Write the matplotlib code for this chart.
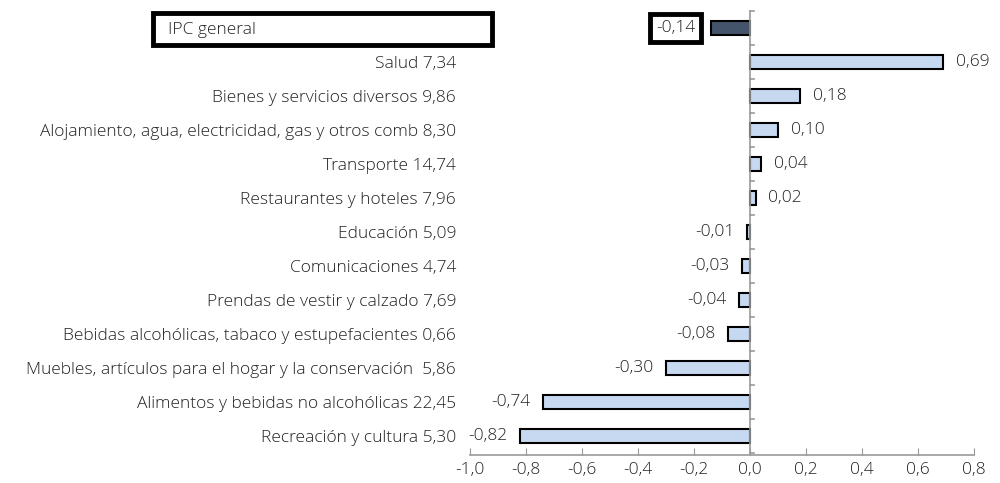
import numpy as np
import matplotlib.pyplot as plt
from matplotlib.patches import Rectangle
from matplotlib.transforms import blended_transform_factory

plt.rcParams['font.family'] = ['Open Sans', 'DejaVu Sans']
plt.rcParams['font.weight'] = 'light'

# categories from bottom to top
categories = ['Recreación y cultura', 'Alimentos y bebidas no alcohólicas',
              'Muebles, artículos para el hogar y la conservación ',
              'Bebidas alcohólicas, tabaco y estupefacientes',
              'Prendas de vestir y calzado', 'Comunicaciones', 'Educación',
              'Restaurantes y hoteles', 'Transporte',
              'Alojamiento, agua, electricidad, gas y otros comb',
              'Bienes y servicios diversos', 'Salud', 'IPC general']
weights = ['5,30', '22,45', '5,86', '0,66', '7,69', '4,74', '5,09',
           '7,96', '14,74', '8,30', '9,86', '7,34', '']
values = [-0.82, -0.74, -0.30, -0.08, -0.04, -0.03, -0.01,
          0.02, 0.04, 0.10, 0.18, 0.69, -0.14]

light = '#C6D9F1'
dark = '#44546A'
fs = 12.5

fig = plt.figure(figsize=(10, 4.83), dpi=100)
ax = fig.add_axes([0.47, 0.058, 0.504, 0.921])

y = np.arange(len(categories))
colors = [light] * (len(values) - 1) + [dark]
ax.barh(y, values, height=0.42, color=colors, edgecolor='black', linewidth=1.5, zorder=3)

ax.set_xlim(-1.0, 0.8)
ax.set_ylim(-0.56, len(categories) - 0.47)

xt = np.arange(-1.0, 0.81, 0.2)
ax.set_xticks(xt)
ax.set_xticklabels([f'{v:.1f}'.replace('.', ',').replace('-0,0', '0,0') for v in xt],
                   fontsize=fs, color='#222222')
ax.tick_params(axis='x', direction='in', length=5, color='#999999', pad=5)

labels = [f'{c} {w}' for c, w in zip(categories[:-1], weights[:-1])] + ['']
ax.set_yticks(y)
ax.set_yticklabels(labels, fontsize=fs, color='#222222')
ax.tick_params(axis='y', length=0, pad=10)

for s in ['top', 'right', 'left']:
    ax.spines[s].set_visible(False)
ax.spines['bottom'].set_color('#999999')
ax.spines['bottom'].set_linewidth(1.2)

# vertical axis at zero with ticks between categories
ax.axvline(0, color='#999999', lw=1.2, zorder=4)
for b in np.arange(-0.5, len(categories) - 0.4, 1.0):
    ax.plot([0, 0.015], [b, b], color='#999999', lw=1.2, zorder=4, clip_on=False)

# value labels
for yi, v in zip(y, values):
    txt = f'{v:.2f}'.replace('.', ',')
    if yi == len(categories) - 1:
        ax.text(v - 0.055, yi, txt, ha='right', va='center', fontsize=fs, color='#222222',
                bbox=dict(boxstyle='square,pad=0.35', fc='white', ec='black', lw=3.5))
    elif v >= 0:
        ax.text(v + 0.045, yi, txt, ha='left', va='center', fontsize=fs, color='#222222')
    else:
        ax.text(v - 0.045, yi, txt, ha='right', va='center', fontsize=fs, color='#222222')

# IPC general boxed label
tr = blended_transform_factory(fig.transFigure, ax.transData)
top = len(categories) - 1
ax.add_patch(Rectangle((0.153, top - 0.5), 0.339, 0.94, transform=tr, fill=False,
                       ec='black', lw=3.5, clip_on=False, zorder=5))
ax.text(0.168, top - 0.05, 'IPC general', transform=tr, ha='left', va='center',
        fontsize=fs, color='#222222')

fig.savefig('out.png', dpi=100)
